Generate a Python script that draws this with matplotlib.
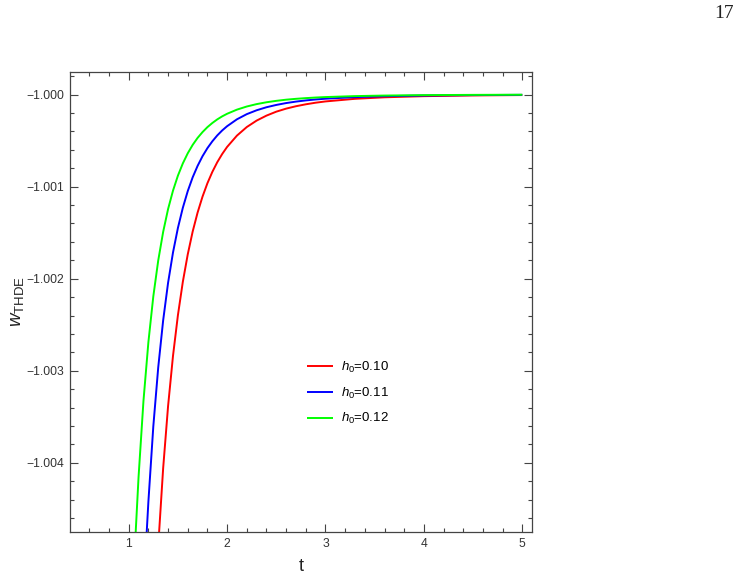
import matplotlib
matplotlib.use("Agg")
import matplotlib.pyplot as plt
from matplotlib.ticker import MultipleLocator, FixedFormatter, FixedLocator

plt.rcParams['font.family'] = ['Liberation Sans', 'DejaVu Sans']
plt.rcParams['mathtext.fontset'] = 'custom'
plt.rcParams['mathtext.rm'] = 'Liberation Sans'
plt.rcParams['mathtext.it'] = 'Liberation Sans:italic'

# ---- data ----
labels = ["$h_0$=0.10", "$h_0$=0.11", "$h_0$=0.12"]
colors = ["#ff0000", "#0000ff", "#00ff00"]

t_red = [1.30, 1.35, 1.40, 1.45, 1.50, 1.55, 1.60, 1.65, 1.70, 1.75, 1.80, 1.85,
         1.90, 1.95, 2.00, 2.10, 2.20, 2.30, 2.40, 2.50, 2.60, 2.70, 2.80, 2.90,
         3.00, 3.30, 3.60, 4.00, 4.50, 5.00]
w_red = [-1.004902, -1.004059, -1.003384, -1.002839, -1.002397, -1.002034, -1.001736,
         -1.001488, -1.001282, -1.001109, -1.000963, -1.000840, -1.000735, -1.000646,
         -1.000569, -1.000446, -1.000353, -1.000283, -1.000229, -1.000186, -1.000153,
         -1.000127, -1.000106, -1.0000887, -1.0000749, -1.0000465, -1.0000301,
         -1.0000178, -1.0000099, -1.0000058]

t_blue = [1.18, 1.20, 1.25, 1.30, 1.35, 1.40, 1.45, 1.50, 1.55, 1.60, 1.65, 1.70,
          1.75, 1.80, 1.85, 1.90, 1.95, 2.00, 2.10, 2.20, 2.30, 2.40, 2.50, 2.60,
          2.70, 2.80, 2.90, 3.00, 3.30, 3.60, 4.00, 4.50, 5.00]
w_blue = [-1.004808, -1.004421, -1.003604, -1.002963, -1.002453, -1.002045, -1.001716,
          -1.001449, -1.001230, -1.001049, -1.000899, -1.000775, -1.000670, -1.000582,
          -1.000508, -1.000444, -1.000390, -1.000344, -1.000269, -1.000213, -1.000171,
          -1.000138, -1.000113, -1.0000926, -1.0000767, -1.0000639, -1.0000536,
          -1.0000453, -1.0000281, -1.0000182, -1.0000107, -1.0000060, -1.0000035]

t_green = [1.07, 1.10, 1.15, 1.20, 1.25, 1.30, 1.35, 1.40, 1.45, 1.50, 1.55, 1.60,
           1.65, 1.70, 1.75, 1.80, 1.85, 1.90, 1.95, 2.00, 2.10, 2.20, 2.30, 2.40,
           2.50, 2.60, 2.70, 2.80, 2.90, 3.00, 3.30, 3.60, 4.00, 4.50, 5.00]
w_green = [-1.004770, -1.004154, -1.003326, -1.002689, -1.002192, -1.001802, -1.001492,
           -1.001244, -1.001044, -1.000881, -1.000748, -1.000638, -1.000547, -1.000471,
           -1.000408, -1.000354, -1.000309, -1.000270, -1.000237, -1.000209, -1.000164,
           -1.000130, -1.000104, -1.0000840, -1.0000685, -1.0000560, -1.0000466,
           -1.0000390, -1.0000326, -1.0000275, -1.0000171, -1.0000111, -1.0000065,
           -1.0000036, -1.0000021]

xticks = [1, 2, 3, 4, 5]
yticks = [-1.004, -1.003, -1.002, -1.001, -1.000]
ytick_labels = ["\u22121.004", "\u22121.003", "\u22121.002", "\u22121.001", "\u22121.000"]

# ---- figure ----
fig = plt.figure(figsize=(7.42, 5.79), dpi=100)
ax = fig.add_axes([0.0943, 0.0812, 0.6223, 0.7953])

series = [(t_red, w_red), (t_blue, w_blue), (t_green, w_green)]
for (t, w), c, lab in zip(series, colors, labels):
    ax.plot(t, w, color=c, lw=1.4, label=lab, solid_capstyle='butt',
            solid_joinstyle='round')

ax.set_xlim(0.403, 5.096)
ax.set_ylim(-1.00475, -0.99975)

ax.xaxis.set_major_locator(FixedLocator(xticks))
ax.xaxis.set_minor_locator(MultipleLocator(0.2))
ax.yaxis.set_major_locator(FixedLocator(yticks))
ax.yaxis.set_major_formatter(FixedFormatter(ytick_labels))
ax.yaxis.set_minor_locator(MultipleLocator(0.0002))

frame_col = "#444444"
for s in ax.spines.values():
    s.set_color(frame_col)
    s.set_linewidth(0.9)
ax.tick_params(which='both', direction='in', top=True, right=True,
               color=frame_col, width=0.8, labelsize=8.7, labelcolor="#333333")
ax.tick_params(which='major', length=5.5, pad=4)
ax.tick_params(which='minor', length=3)

ax.set_xlabel("t", fontsize=13, labelpad=6, color="#222222")
ax.set_ylabel(r"$w_{\mathrm{THDE}}$", fontsize=13.5, labelpad=0.5, color="#222222")

leg = ax.legend(loc='upper left', bbox_to_anchor=(307 / 742, 1 - 360 / 579),
                bbox_transform=fig.transFigure, frameon=False, fontsize=9.5,
                handlelength=2.0, handletextpad=0.55, labelspacing=0.8,
                borderpad=0, borderaxespad=0)

fig.text(724 / 742, 1 - 14 / 579, "17", family=['Liberation Serif', 'DejaVu Serif'],
         fontsize=14, ha='center', va='center', color="#222222")

fig.savefig("out.png", dpi=100)
